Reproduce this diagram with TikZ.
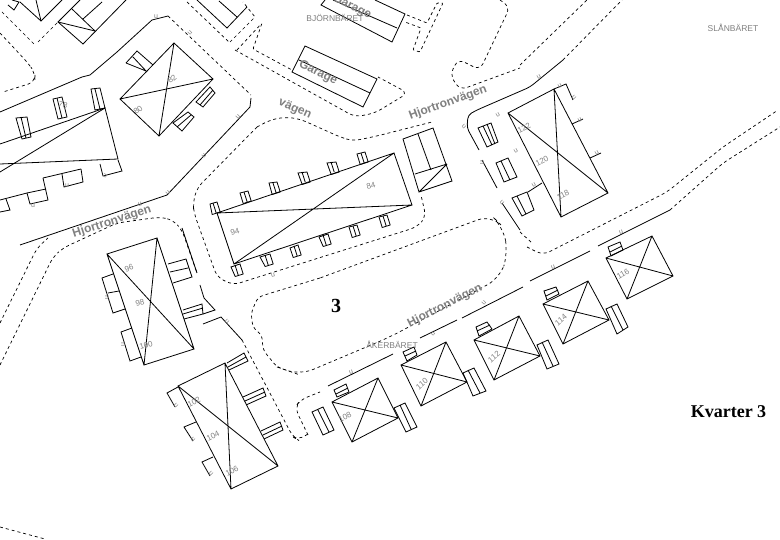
\documentclass[tikz,border=0pt]{standalone}
\usepackage{fontspec}
\setmainfont{Liberation Sans}
\newfontfamily\serifbold{Liberation Serif}[Scale=1]
\definecolor{lbl}{gray}{0.5}
\tikzset{
 wall/.style={draw=black,line width=0.8pt,line join=miter},
 road/.style={draw=black,line width=0.7pt,dash pattern=on 3pt off 3pt,rounded corners=7pt},
 street/.style={font=\fontsize{12}{12}\selectfont\bfseries,text=lbl,inner sep=0pt},
 hnum/.style={font=\fontsize{8}{8}\selectfont,text=lbl,inner sep=0pt},
 quarter/.style={font=\fontsize{8.5}{8.5}\selectfont,text=lbl,inner sep=0pt},
 tick/.style={font=\fontsize{7}{7}\selectfont,text=lbl,inner sep=0pt},
 big/.style={font=\serifbold\bfseries,text=black,inner sep=0pt}
}
\begin{document}
\begin{tikzpicture}[x=1pt,y=-1pt]
\useasboundingbox (0,0) rectangle (780,540);
\fill[white] (0,0) rectangle (780,540);
\clip (0,0) rectangle (780,540);

% --- roads (dashed) ---
\draw[road] (2,12)--(35,45);
\draw[road] (38,42)--(63,17);
\draw[road] (0,33)--(28,63)--(35,73)--(35,82)--(3,92);
\draw[road] (187,2)--(230,43);
\draw[road,rounded corners=1pt] (230,42)--(255,17)--(243,2);
\draw[road,rounded corners=1pt] (237,50)--(262,23)--(253,49)--(292,70);
\draw[road,rounded corners=0pt] (168,16)--(251,95);
\draw[road] (235,50)--(355,117)--(375,113)--(408,93)--(378,77);
\draw[road,rounded corners=1pt] (407,15)--(427,23)--(437,3)--(443,3)--(420,52)--(413,50)--(421,28)--(405,22);
\draw[road] (257,127)--(197,188)--(193,203)--(194,213)--(217,277)--(233,285)--(417,227)--(426,217)--(421,195);
\draw[road] (257,127)--(270,120)--(285,117)--(300,119)--(340,137)--(353,141)--(377,136)--(432,122);
\draw[road] (500,0)--(510,7)--(480,70)--(458,59)--(450,75)--(460,90)--(520,68);
\draw[road] (520,65)--(587,0);
\draw[road] (563,60)--(622,0);
\draw[road] (520,232)--(532,243);
\draw[road] (527,247)--(543,255)--(667,192)--(723,147)--(778,110);
\draw[road] (670,210)--(723,163)--(780,127);
\draw[road,rounded corners=5pt] (320,278)--(258,297)--(251,313)--(253,328)--(262,335)--(263,350)--(277,367)--(300,375);
\draw[road,rounded corners=14pt] (277,367)--(300,375)--(390,337)--(500,278)--(508,253)--(503,227)--(491,215)--(320,278);
\draw[road] (0,323)--(37,248)--(48,238);
\draw[road] (0,365)--(53,257)--(63,248)--(117,223)--(160,217)--(173,220)--(182,230)--(197,273);
\draw[road] (242,340)--(293,437)--(298,440)--(308,434);
\draw[road] (308,435)--(295,408)--(300,400)--(320,392);
\draw[road] (0,527)--(45,539);

% --- solid road edges and parcel lines ---
\draw[wall] (0,112)--(82,77)--(90,75)--(117,52)--(152,20)--(168,16);
\draw[wall] (251,98)--(250,107)--(167,195)--(20,245);
\draw[wall,rounded corners=4pt] (479,150)--(467,128)--(468,115)--(477,110)--(530,87)--(563,60);
\draw[wall] (482,160)--(497,188);
\draw[wall] (502,203)--(520,230);
\draw[wall] (328,386)--(393,354);
\draw[wall] (420,338)--(457,320);
\draw[wall] (462,318)--(523,287);
\draw[wall] (530,281)--(590,251);
\draw[wall] (598,246)--(670,210);
\draw[wall] (182,228)--(197,273);
\draw[wall] (200,285)--(204,298)--(215,310)--(203,314);
\draw[wall] (203,324)--(221,317)--(242,340);

% --- top left buildings ---
\draw[wall] (8,5)--(14,10)--(19,2)--(12,0);
\draw[wall] (20,2)--(41,21)--(62,0);
\draw[wall] (36,0)--(41,21);
\draw[wall] (80,0)--(58,22)--(83,44)--(126,0);
\draw[wall] (58,22)--(95,31);
\draw[wall] (72,9)--(95,31);
\draw[wall] (83,19)--(102,2);
\draw[wall] (197,0)--(227,28)--(247,7);
\draw[wall] (219,1)--(237,17);

% --- building 78 ---
\draw[wall] (0,144)--(105,108)--(118,159)--(0,164);
\draw[wall] (0,172)--(105,108);
\draw[wall] (91,89)--(100,88)--(105,108)--(95,110)--cycle (95,89)--(100,109);
\draw[wall] (53,99)--(62,97)--(67,117)--(58,119)--cycle (57,98)--(62,118);
\draw[wall] (16,118)--(27,117)--(31,137)--(22,139)--cycle (21,117)--(26,138);
\draw[wall] (118,160)--(122,171)--(103,176)--(100,164);
\draw[wall] (81,169)--(83,182)--(64,187)--(62,174);
\draw[wall] (43,178)--(81,169);
\draw[wall] (43,178)--(48,200)--(30,204)--(27,193)--(0,200);
\draw[wall] (46,189)--(27,193);
\draw[wall] (6,199)--(10,210)--(0,212);

% --- building 80/82 ---
\draw[wall] (174,43)--(213,79)--(159,136)--(120,99)--cycle (174,43)--(159,136) (120,99)--(213,79);
\draw[wall] (126,63)--(137,51)--(153,65) (133,57)--(147,72) (126,63)--(146,71);
\draw[wall] (173,123)--(188,112)--(194,117)--(182,131)--cycle (177,127)--(191,115);
\draw[wall] (196,102)--(210,87)--(215,93)--(203,107)--cycle (200,105)--(213,90);

% --- building 84/94 ---
\draw[wall] (217,213)--(394,153)--(412,205)--(234,264)--cycle (217,213)--(412,205) (234,264)--(394,153);
\foreach \a/\b/\c/\d in {
 210/204/217/202,240/193/248/191,269/183/277/182,298/173/307/172,327/163/336/162,357/154/365/152,
 231/267/240/264,260/257/270/254,290/248/298/245,319/237/328/234,349/227/357/225,379/217/387/215}
 \draw[wall] (\a,\b)--(\c,\d)--++(3.2,10)--++(-8,2.5)--cycle;
\foreach \a/\b in {213/203,244/192,273/183,302/172,331/162,361/153,235/265,265/255,294/246,323/235,353/226,383/216}
 \draw[wall] (\a,\b)--++(3.2,10);

% --- annex ---
\draw[wall] (403,139)--(433,128)--(452,181)--(419,192)--cycle (418,134)--(431,170) (415,174)--(447,164) (419,192)--(447,164);

% --- garages ---
\draw[wall] (305,46)--(377,79)--(363,107)--(292,72)--cycle (299,60)--(370,93);
\draw[wall] (325,0)--(321,5)--(392,42)--(405,14)--(375,0) (333,0)--(397,28);

% --- building 96/98/100 ---
\draw[wall] (107,254)--(157,238)--(194,349)--(144,365)--cycle (107,254)--(194,349) (157,238)--(144,365);
\draw[wall] (113,274)--(102,278)--(113,313)--(125,309) (108,293)--(119,291);
\draw[wall] (132,328)--(121,332)--(130,361)--(141,357);
\draw[wall] (168,264)--(186,259)--(192,277)--(173,283) (170,272)--(188,268);
\draw[wall] (183,310)--(202,304)--(203,314)--(184,319) (183,314)--(203,308);

% --- building 102/104/106 ---
\draw[wall] (178,386)--(225,363)--(278,466)--(231,489)--cycle (178,386)--(278,466) (225,363)--(231,489);
\draw[wall] (178,387)--(167,393)--(175,407);
\draw[wall] (196,422)--(184,427)--(193,441);
\draw[wall] (213,457)--(202,462)--(210,476);
\draw[wall] (227,363)--(244,353)--(248,361)--(229,370) (228,367)--(246,357);
\draw[wall] (243,397)--(263,388)--(266,396)--(246,405) (245,401)--(265,392);
\draw[wall] (261,431)--(280,422)--(283,430)--(264,439) (263,435)--(282,426);

% --- building 118/120/122 ---
\draw[wall] (508,113)--(554,89)--(608,193)--(561,217)--cycle (508,113)--(608,193) (554,89)--(561,217);
\draw[wall] (478,128)--(491,123)--(498,142)--(487,147)--cycle (483,126)--(492,145) (487,124)--(495,144);
\draw[wall] (496,163)--(508,158)--(517,177)--(504,182)--cycle (501,161)--(510,180);
\draw[wall] (512,198)--(527,192)--(534,210)--(522,216)--cycle (517,196)--(526,214) (528,192)--(542,183);
\draw[wall] (554,89)--(566,84)--(573,100);
\draw[wall] (572,124)--(583,119);
\draw[wall] (590,158)--(601,153);

% --- row houses 108..116 ---
\draw[wall] (332,402)--(378,378)--(398,418)--(352,442)--cycle (332,402)--(398,418) (378,378)--(352,442);
\draw[wall] (334,390)--(346,384)--(349,392)--(337,397)--cycle (336,394)--(348,388);
\draw[wall] (394,408)--(405,403)--(417,427)--(406,432)--cycle (400,405)--(411,429);
\draw[wall] (312,412)--(323,407)--(334,430)--(323,435)--cycle (318,410)--(329,432);
\draw[wall] (401,365)--(446,342)--(467,382)--(421,406)--cycle (401,365)--(467,382) (446,342)--(421,406);
\draw[wall] (403,352)--(414,347)--(417,355)--(407,361)--cycle (405,356)--(416,351);
\draw[wall] (463,373)--(474,368)--(486,391)--(473,396)--cycle (468,370)--(480,393);
\draw[wall] (474,340)--(519,316)--(540,356)--(494,380)--cycle (474,340)--(540,356) (519,316)--(494,380);
\draw[wall] (476,327)--(487,322)--(492,329)--(479,336)--cycle (477,331)--(490,325);
\draw[wall] (537,345)--(548,340)--(559,364)--(547,369)--cycle (542,342)--(553,366);
\draw[wall] (543,304)--(588,281)--(609,320)--(563,344)--cycle (543,304)--(609,320) (588,281)--(563,344);
\draw[wall] (544,291)--(556,287)--(559,294)--(547,300)--cycle (546,296)--(558,290);
\draw[wall] (606,309)--(617,304)--(628,327)--(617,334)--cycle (611,306)--(623,330);
\draw[wall] (606,258)--(652,236)--(673,276)--(627,299)--cycle (606,258)--(673,276) (652,236)--(627,299);
\draw[wall] (608,247)--(620,242)--(623,250)--(611,256)--cycle (610,252)--(622,246);

% --- labels ---
\node[street,rotate=-27] (gar1) at (352,7) {Garage};
\node[street,rotate=-27] (gar2) at (318,73) {Garage};
\node[street,rotate=20] (hj1) at (448,103) {Hjortronvägen};
\node[street,rotate=-24] (vag) at (295,109) {vägen};
\node[street,rotate=18] (hj2) at (112,222) {Hjortronvägen};
\node[street,rotate=27] (hj3) at (445,306) {Hjortronvägen};
\node[quarter] (bj) at (335,18) {BJÖRNBÄRET};
\node[quarter] (sl) at (733,28) {SLÅNBÄRET};
\node[quarter] (ak) at (392,345) {ÅKERBÄRET};
\node[big,font=\serifbold\bfseries\fontsize{20}{20}\selectfont] (kv) at (336,306) {3};
\node[big,font=\serifbold\bfseries\fontsize{18}{18}\selectfont] (kq) at (728.5,412) {Kvarter 3};
\foreach \n/\x/\y/\r in {82/172/79/40,80/138/110/40,78/63/105/-15,84/371/186/15,94/235/232/15,
 96/129/268/20,98/140/303/15,100/146/345/15,102/194/402/27,104/213/436/27,106/232/471/27,
 108/345/417/27,110/422/384/40,112/494/357/40,114/561/320/40,116/623/274/30,118/563/195/27,120/542/161/27,122/524/128/27}
 \node[hnum,rotate=\r] at (\x,\y) {\n};
\foreach \x/\y/\r in {156/17/0,190/33/45,238/117/45,204/156/45,33/206/0,67/186/0,105/176/45,168/193/45,
 140/204/15,273/275/15,227/322/-45,107/298/90,123/345/90,176/406/-45,193/440/-45,211/474/-45,
 498/115/30,464/127/-45,539/77/30,560/86/30,574/98/-45,580/120/30,597/153/30,516/151/30,482/163/90,502/203/-45,534/185/30,
 621/232/20,553/267/20,484/303/45,433/334/45,351/372/20}
 \node[tick,rotate=\r] at (\x,\y) {u};
\end{tikzpicture}
\end{document}
